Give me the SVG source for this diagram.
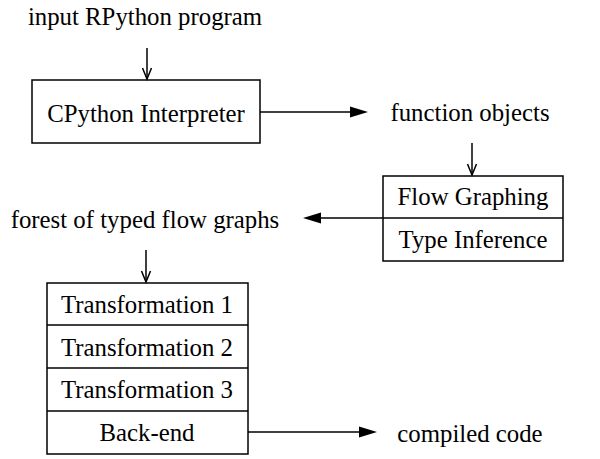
<svg xmlns="http://www.w3.org/2000/svg" width="600" height="459" viewBox="0 0 600 459">
<defs>
<style>
text{font-family:"Liberation Serif","Times New Roman",serif;font-size:24.8px;fill:#000;text-anchor:middle}
.box{fill:#fff;stroke:#000;stroke-width:1.5}
.ln{stroke:#000;stroke-width:1.5;fill:none}
.big{fill:#000;stroke:none}
.v{fill:none;stroke:#000;stroke-width:1.5}
</style>
</defs>
<g id="n-input"><text x="145" y="25">input RPython program</text></g>
<g id="n-cpython"><rect class="box" x="32" y="80" width="228" height="63"/><text x="146" y="122">CPython Interpreter</text></g>
<g id="n-funcobj"><text x="470" y="121">function objects</text></g>
<g id="n-flow"><rect class="box" x="383" y="176" width="180" height="85"/><line class="ln" x1="383" y1="218" x2="563" y2="218"/><text x="473" y="205">Flow Graphing</text><text x="473" y="248">Type Inference</text></g>
<g id="n-forest"><text x="145" y="228">forest of typed flow graphs</text></g>
<g id="n-trans"><rect class="box" x="47" y="283" width="201" height="171"/><line class="ln" x1="47" y1="325" x2="248" y2="325"/><line class="ln" x1="47" y1="368" x2="248" y2="368"/><line class="ln" x1="47" y1="411" x2="248" y2="411"/><text x="147" y="313">Transformation 1</text><text x="147" y="356">Transformation 2</text><text x="147" y="398">Transformation 3</text><text x="147" y="441">Back-end</text></g>
<g id="n-compiled"><text x="470" y="442">compiled code</text></g>
<g id="connectors">
<line class="ln" x1="147" y1="48" x2="147" y2="79"/><path class="v" d="M142.5 68 L147 79 L151.5 68"/>
<line class="ln" x1="260" y1="112" x2="352" y2="112"/><path class="big" d="M368 112 L350 106.5 L350 117.5 Z"/>
<line class="ln" x1="472" y1="143" x2="472" y2="175"/><path class="v" d="M467.5 164 L472 175 L476.5 164"/>
<line class="ln" x1="383" y1="218" x2="320" y2="218"/><path class="big" d="M303 218 L321 212.5 L321 223.5 Z"/>
<line class="ln" x1="146" y1="250" x2="146" y2="282"/><path class="v" d="M141.5 271 L146 282 L150.5 271"/>
<line class="ln" x1="248" y1="432" x2="360" y2="432"/><path class="big" d="M377 432 L359 426.5 L359 437.5 Z"/>
</g>
</svg>
